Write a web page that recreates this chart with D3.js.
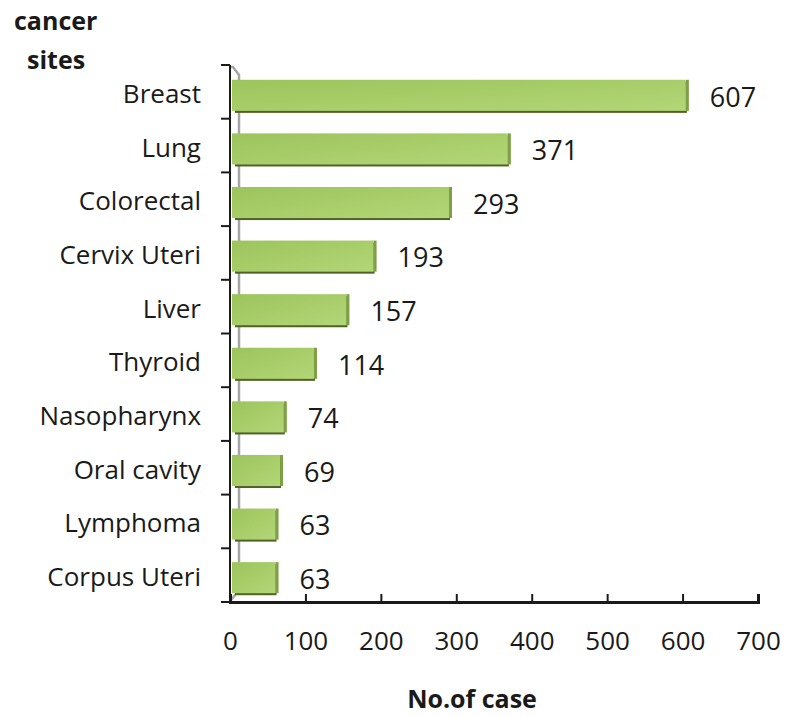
<!DOCTYPE html>
<html>
<head>
<meta charset="utf-8">
<script src="https://cdn.jsdelivr.net/npm/d3@7"></script>
<style>
  body { margin: 0; background: #fff; }
  text { font-family: "Open Sans", "Noto Sans", sans-serif; fill: #1a1a1a; }
</style>
</head>
<body>
<svg width="787" height="717"></svg>
<script>
var sites = ['Breast', 'Lung', 'Colorectal', 'Cervix Uteri', 'Liver', 'Thyroid',
             'Nasopharynx', 'Oral cavity', 'Lymphoma', 'Corpus Uteri']
var cases = [607, 371, 293, 193, 157, 114, 74, 69, 63, 63]
var xTicks = [0, 100, 200, 300, 400, 500, 600, 700]

var svg = d3.select('svg')

var mapX = d3.scaleLinear().domain([0, 700]).range([230, 758])
var mapY = d3.scaleBand().domain(sites).range([68, 605]).paddingInner(0.42).paddingOuter(0.22)
var band = d3.scaleBand().domain(sites).range([65, 602]) // for ticks / labels

var defs = svg.append('defs')
var grad = defs.append('linearGradient').attr('id', 'barFill')
    .attr('x1', 0).attr('y1', 0).attr('x2', 1).attr('y2', 1)
grad.append('stop').attr('offset', '0%').attr('stop-color', '#9cc45c')
grad.append('stop').attr('offset', '100%').attr('stop-color', '#b3d677')

// back wall / floor (pseudo 3d)
var x0 = mapX(0)
svg.append('path')
    .attr('d', `M${x0},67 L${x0 + 3},67 L${x0 + 9},75 L${x0 + 9},590 L${x0 + 1},600`)
    .attr('fill', 'none')
    .attr('stroke', '#a6a6a6')
    .attr('stroke-width', 2.5)

// bars
var groups = svg.selectAll('g.bar')
    .data(sites)
    .enter()
    .append('g')
    .attr('class', 'bar')

groups.append('rect') // bottom shadow edge
    .attr('x', x0 + 5)
    .attr('y', function(d){ return mapY(d) + 2 })
    .attr('width', function(d, i){ return mapX(cases[i]) - x0 - 6 })
    .attr('height', mapY.bandwidth())
    .attr('fill', '#4f6228')

groups.append('rect') // right side face
    .attr('x', function(d, i){ return mapX(cases[i]) - 2 })
    .attr('y', function(d){ return mapY(d) })
    .attr('width', 3)
    .attr('height', mapY.bandwidth())
    .attr('fill', '#7e9f45')

groups.append('rect')
    .attr('x', x0 + 2)
    .attr('y', function(d){ return mapY(d) })
    .attr('width', function(d, i){ return mapX(cases[i]) - x0 - 4 })
    .attr('height', mapY.bandwidth())
    .attr('fill', 'url(#barFill)')

groups.append('text')
    .attr('x', function(d, i){ return mapX(cases[i]) + 22 })
    .attr('y', function(d){ return mapY(d) + mapY.bandwidth() / 2 + 4 })
    .attr('dominant-baseline', 'middle')
    .style('font-size', '27px')
    .text(function(d, i){ return cases[i] })

// y axis
svg.append('line')
    .attr('x1', x0).attr('x2', x0).attr('y1', 65).attr('y2', 602)
    .attr('stroke', '#1a1a1a').attr('stroke-width', 2)
svg.selectAll('line.ytick')
    .data(sites.concat(['end']))
    .enter()
    .append('line')
    .attr('class', 'ytick')
    .attr('x1', x0 - 9).attr('x2', x0)
    .attr('y1', function(d, i){ return 65 + i * band.step() })
    .attr('y2', function(d, i){ return 65 + i * band.step() })
    .attr('stroke', '#1a1a1a').attr('stroke-width', 2)

svg.selectAll('text.ylab')
    .data(sites)
    .enter()
    .append('text')
    .attr('class', 'ylab')
    .attr('x', 201)
    .attr('y', function(d){ return band(d) + band.bandwidth() / 2 + 4 })
    .attr('text-anchor', 'end')
    .attr('dominant-baseline', 'middle')
    .style('font-size', '26px')
    .text(function(d){ return d })

// x axis
var myAxisX = d3.axisBottom(mapX).tickValues(xTicks).tickSize(-8).tickPadding(30)
var gx = svg.append('g')
    .attr('transform', 'translate(0, 602)')
    .call(myAxisX)
gx.select('.domain').attr('stroke', '#1a1a1a').attr('stroke-width', 3)
gx.selectAll('.tick line').attr('stroke', '#1a1a1a').attr('stroke-width', 2)
gx.selectAll('.tick text')
    .style('font-size', '26px')
    .style('font-family', '"Open Sans", "Noto Sans", sans-serif')
    .attr('fill', '#1a1a1a')

// titles
svg.append('text').attr('x', 14).attr('y', 30)
    .style('font-size', '25px').style('font-weight', 'bold').text('cancer')
svg.append('text').attr('x', 27).attr('y', 69)
    .style('font-size', '25px').style('font-weight', 'bold').text('sites')
svg.append('text').attr('x', 472).attr('y', 708)
    .attr('text-anchor', 'middle')
    .style('font-size', '25px').style('font-weight', 'bold').text('No.of case')
</script>
</body>
</html>
